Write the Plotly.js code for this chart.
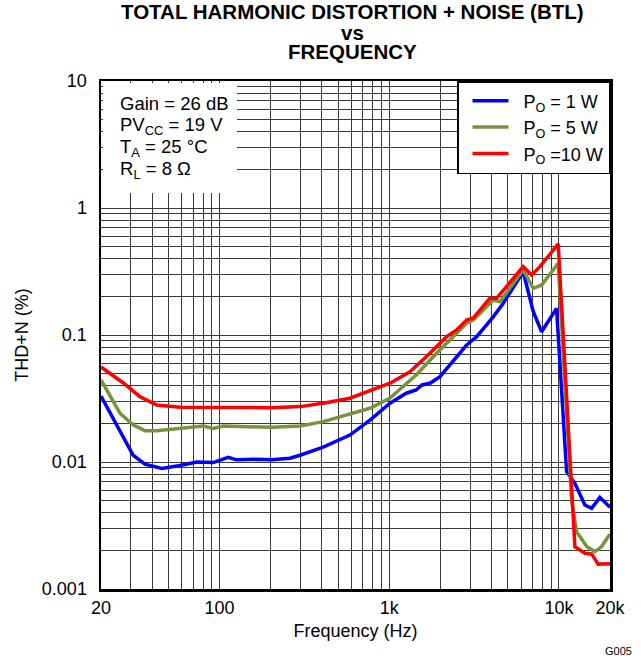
<!DOCTYPE html>
<html>
<head>
<meta charset="utf-8">
<script src="https://cdn.plot.ly/plotly-3.0.1.min.js"></script>
<style>
  html, body { margin: 0; padding: 0; background: #ffffff; }
  #chart { width: 641px; height: 656px; }
</style>
</head>
<body>
<div id="chart"></div>
<script>
// THD+N versus frequency, BTL output, three output power levels

// P_O = 1 W
const freq1W = [20, 25.9, 30.9, 36.3, 45.6, 58.4, 73.3, 91.8, 112.5, 126, 165, 203, 260, 298, 408, 586,
  770, 1010, 1260, 1440, 1560, 1737, 1990, 2858, 3274, 4100, 4700, 6158, 7052, 7908, 9686,
  11100, 12420, 14220, 15580, 17430, 19500, 20000];
const thd1W = [0.0330, 0.0173, 0.01135, 0.0096, 0.0089, 0.0094, 0.0100, 0.0099, 0.0109, 0.0104, 0.0105, 0.0104, 0.0107, 0.0113, 0.0131, 0.0163,
  0.0214, 0.0290, 0.0348, 0.0369, 0.0404, 0.0417, 0.0470, 0.0834, 0.0970, 0.139, 0.178, 0.315, 0.153, 0.106, 0.162,
  0.0084, 0.0068, 0.00458, 0.00432, 0.00527, 0.0045, 0.0044];

// P_O = 5 W
const freq5W = [20, 25.9, 30.9, 36.3, 42.6, 58.4, 80.1, 91.8, 105, 203, 298, 408, 586,
  770, 1010, 1440, 1902, 2280, 2858, 3126, 4100, 4490, 6158, 7052, 7908, 9906,
  11880, 12710, 14620, 16300, 17800, 19500, 20000];
const thd5W = [0.0443, 0.0242, 0.0196, 0.01764, 0.01764, 0.0184, 0.0192, 0.0184, 0.0192, 0.01875, 0.0192, 0.0208, 0.0239,
  0.0265, 0.0319, 0.0484, 0.0718, 0.0914, 0.1236, 0.1313, 0.1887, 0.183, 0.325, 0.233, 0.2477, 0.367,
  0.00502, 0.00282, 0.00215, 0.00197, 0.00215, 0.00258, 0.0027];

// P_O = 10 W
const freq10W = [20, 27.1, 33.9, 42.6, 58.4, 105, 203, 298, 408, 586,
  703, 1010, 1324, 1737, 2178, 2494, 2858, 3126, 3920, 4292, 6158, 6900, 7728, 9906,
  12420, 14220, 15580, 17040, 20000];
const thd10W = [0.0560, 0.0419, 0.0327, 0.0281, 0.0270, 0.0270, 0.0268, 0.0273, 0.0290, 0.0318,
  0.0348, 0.0417, 0.0514, 0.0718, 0.0970, 0.1095, 0.1313, 0.136, 0.1945, 0.1945, 0.345, 0.297, 0.345, 0.521,
  0.00215, 0.00191, 0.00189, 0.00157, 0.00158];

const NB = '\u00a0\u00a0';
const seriesNames = [NB + 'P<sub>O</sub> = 1 W', NB + 'P<sub>O</sub> = 5 W', NB + 'P<sub>O</sub> =10 W'];
const seriesColors = ['#0000ff', '#77933c', '#ff0000'];

// labelled ticks
const xTickVals = [20, 100, 1000, 10000, 20000];
const xTickText = ['20', '100', '1k', '10k', '20k'];
const yTickVals = [0.001, 0.01, 0.1, 1, 10];
const yTickText = ['0.001', '0.01', '0.1', '1', '10'];
// unlabelled grid steps (2..9 within each decade)
const xMinorVals = [30, 40, 50, 60, 70, 80, 90, 200, 300, 400, 500, 600, 700, 800, 900,
  2000, 3000, 4000, 5000, 6000, 7000, 8000, 9000];
const yMinorVals = [0.002, 0.003, 0.004, 0.005, 0.006, 0.007, 0.008, 0.009,
  0.02, 0.03, 0.04, 0.05, 0.06, 0.07, 0.08, 0.09,
  0.2, 0.3, 0.4, 0.5, 0.6, 0.7, 0.8, 0.9,
  2, 3, 4, 5, 6, 7, 8, 9];

const conditions = ['Gain = 26 dB', 'PV<sub>CC</sub> = 19 V', 'T<sub>A</sub> = 25 °C', 'R<sub>L</sub> = 8 Ω'];

const FONT = 'Arial, "Liberation Sans", sans-serif';
const GRID = '#3a3a3a';

const traces = [
  [freq1W, thd1W], [freq5W, thd5W], [freq10W, thd10W]
].map((s, i) => ({
  x: s[0], y: s[1], type: 'scatter', mode: 'lines',
  name: seriesNames[i],
  line: {color: seriesColors[i], width: 3.5}
}));

const W = 641, H = 656;
const M = {l: 101, r: 31, t: 81, b: 67};
const plotH = H - M.t - M.b;
const plotW = W - M.l - M.r;
// page pixel -> paper fraction
const py = p => (H - M.b - p) / plotH;
const px = p => (p - M.l) / plotW;

const annotations = [
  {text: '<b>TOTAL HARMONIC DISTORTION + NOISE (BTL)</b>', y: 11.5},
  {text: '<b>vs</b>', y: 33},
  {text: '<b>FREQUENCY</b>', y: 51.5}
].map(a => ({
  text: a.text, x: px(352), y: py(a.y), xref: 'paper', yref: 'paper',
  xanchor: 'center', yanchor: 'middle', showarrow: false,
  font: {family: FONT, size: 20.5, color: '#000'}
}));

// blank panel behind the test-condition notes
annotations.push({
  text: '\u00a0', x: px(102.5), y: py(82.5), xref: 'paper', yref: 'paper',
  xanchor: 'left', yanchor: 'top', showarrow: false,
  width: 134, height: 110, bgcolor: '#ffffff', borderpad: 0, borderwidth: 0,
  font: {family: FONT, size: 10, color: '#fff'}
});

const condRows = [103, 126, 148, 170];
conditions.forEach((t, i) => annotations.push({
  text: t, x: px(118), y: py(condRows[i]), xref: 'paper', yref: 'paper',
  xanchor: 'left', yanchor: 'middle', showarrow: false,
  font: {family: FONT, size: 18.5, color: '#000'}
}));

annotations.push({
  text: 'G005', x: px(634), y: py(651), xref: 'paper', yref: 'paper',
  xanchor: 'right', yanchor: 'middle', showarrow: false,
  font: {family: FONT, size: 11, color: '#000'}
});

const layout = {
  width: W, height: H,
  margin: M,
  paper_bgcolor: '#ffffff', plot_bgcolor: '#ffffff',
  font: {family: FONT, size: 18, color: '#000'},
  showlegend: true,
  legend: {
    x: 1, xanchor: 'right', y: 1, yanchor: 'top',
    bgcolor: '#ffffff', bordercolor: '#000', borderwidth: 1.5,
    font: {family: FONT, size: 18, color: '#000'},
    itemwidth: 36, indentation: 9
  },
  xaxis: {
    type: 'log', range: [Math.log10(20), Math.log10(20000)],
    tickmode: 'array', tickvals: xTickVals, ticktext: xTickText,
    ticks: '', ticklabelstandoff: 1,
    showgrid: true, gridcolor: GRID, gridwidth: 1,
    minor: {tickmode: 'array', tickvals: xMinorVals, ticks: '', showgrid: true, gridcolor: GRID, gridwidth: 1},
    showline: true, linecolor: '#000', linewidth: 2.5, mirror: true,
    tickfont: {family: FONT, size: 18, color: '#000'},
    title: {text: 'Frequency (Hz)', font: {family: FONT, size: 18, color: '#000'}, standoff: 8}
  },
  yaxis: {
    type: 'log', range: [-3, 1],
    tickmode: 'array', tickvals: yTickVals, ticktext: yTickText,
    ticks: '', ticklabelstandoff: 8,
    showgrid: true, gridcolor: GRID, gridwidth: 1,
    minor: {tickmode: 'array', tickvals: yMinorVals, ticks: '', showgrid: true, gridcolor: GRID, gridwidth: 1},
    showline: true, linecolor: '#000', linewidth: 2.5, mirror: true,
    tickfont: {family: FONT, size: 18, color: '#000'},
    title: {text: 'THD+N (%)', font: {family: FONT, size: 18, color: '#000'}, standoff: 9}
  },
  annotations: annotations
};

Plotly.newPlot('chart', traces, layout, {displayModeBar: false, staticPlot: true});
</script>
</body>
</html>
